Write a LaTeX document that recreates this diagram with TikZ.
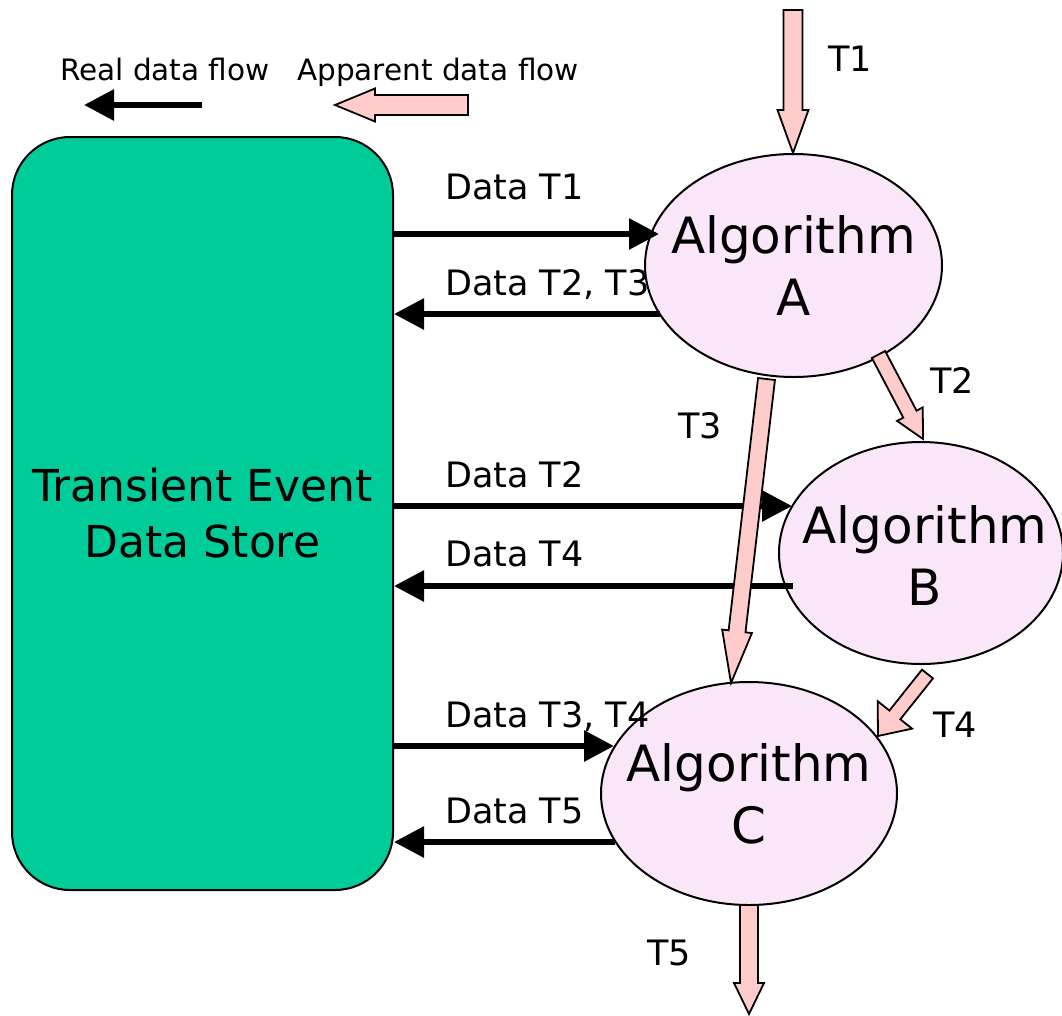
\documentclass[tikz,border=0pt]{standalone}
\usepackage{fontspec}
\setmainfont{DejaVu Sans}
\usetikzlibrary{arrows.meta,calc,shapes.geometric}
\definecolor{storegreen}{RGB}{0,204,153}
\definecolor{algopink}{RGB}{250,230,249}
\definecolor{apink}{RGB}{255,204,204}
\newcommand\flowarrow[5]{%
  \path[apparent] let \p1=(#1), \p2=(#2),
      \n1={atan2(\y2-\y1,\x2-\x1)}, \n2={veclen(\x2-\x1,\y2-\y1)-#5} in
    ($(\p1)+(\n1+90:#3pt)$) -- ($(\p1)+(\n1:\n2)+(\n1+90:#3pt)$)
    -- ($(\p1)+(\n1:\n2)+(\n1+90:#4pt)$) -- (\p2)
    -- ($(\p1)+(\n1:\n2)+(\n1-90:#4pt)$) -- ($(\p1)+(\n1:\n2)+(\n1-90:#3pt)$)
    -- ($(\p1)+(\n1-90:#3pt)$) -- cycle;}
\begin{document}
\begin{tikzpicture}[x=1pt,y=-1pt,
  apparent/.style={draw=black, fill=apink, line width=1.8pt, line join=miter},
  realflow/.style={draw=black, line width=6pt, -{Triangle[length=30pt,width=30pt]}},
  algo/.style={ellipse, draw=black, line width=2pt, fill=algopink, inner sep=0pt, outer sep=0pt},
  algotext/.style={align=center, font=\fontsize{50}{62}\selectfont},
  lbl/.style={anchor=base west, inner sep=0pt, font=\fontsize{35}{40}\selectfont},
  legend/.style={anchor=base west, inner sep=0pt, font=\fontsize{29.5}{34}\selectfont}]
\useasboundingbox (0,0) rectangle (1062,1015);

% legend
\node[legend] (lreal) at (60,80) {Real data flow};
\node[legend] (lapp) at (297,80) {Apparent data flow};
\coordinate (lr1) at (202,105); \coordinate (lr2) at (84,105);
\draw[realflow] (lr1) -- (lr2);
\coordinate (la1) at (468,105); \coordinate (la2) at (335,105);
\flowarrow{la1}{la2}{10}{16.5}{40}

% store
\node[draw=black, line width=2pt, fill=storegreen, rounded corners=58pt,
      minimum width=381pt, minimum height=753pt, inner sep=0pt, align=center,
      font=\fontsize{44}{56}\selectfont] (store) at (202.5,513.5)
      {Transient Event\\Data Store};

% algorithms
\node[algo, minimum width=297pt, minimum height=223pt] (A) at (793.5,265.5) {};
\node[algo, minimum width=284pt, minimum height=222pt] (B) at (921,553) {};
\node[algo, minimum width=296pt, minimum height=223pt] (C) at (749,793.5) {};
\node[algotext] (At) at (A) {Algorithm\\A};
\node[algotext] (Bt) at (925,555) {Algorithm\\B};
\node[algotext] (Ct) at (C) {Algorithm\\C};

% real data flow
\coordinate (a1) at (659,234);
\coordinate (a2) at (660,314);
\coordinate (b1) at (792,506);
\coordinate (b2) at (793,586);
\coordinate (c1) at (614,746);
\coordinate (c2) at (615,842);
\draw[realflow] (store.east |- a1) -- (a1);
\draw[realflow] (a2) -- (store.east |- a2);
\draw[realflow] (store.east |- b1) -- (b1);
\draw[realflow] (b2) -- (store.east |- b2);
\draw[realflow] (store.east |- c1) -- (c1);
\draw[realflow] (c2) -- (store.east |- c2);

\node[lbl] (d1) at (445,199) {Data T1};
\node[lbl] (d23) at (445,295) {Data T2, T3};
\node[lbl] (d2) at (445,487) {Data T2};
\node[lbl] (d4) at (445,566) {Data T4};
\node[lbl] (d34) at (445,727) {Data T3, T4};
\node[lbl] (d5) at (445,823) {Data T5};

% apparent data flow
\coordinate (t1s) at (793,10);    \coordinate (t1e) at (793,153);
\coordinate (t2s) at (878.5,354.5); \coordinate (t2e) at (923,439);
\coordinate (t3s) at (766.5,379); \coordinate (t3e) at (731,683);
\coordinate (t4s) at (927.5,674); \coordinate (t4e) at (878,736);
\coordinate (t5s) at (749,905);   \coordinate (t5e) at (749,1014);
\flowarrow{t1s}{t1e}{9.5}{15.5}{43}
\flowarrow{t2s}{t2e}{7.5}{14.5}{28}
\flowarrow{t3s}{t3e}{8.5}{15}{52}
\flowarrow{t4s}{t4e}{7}{22}{27}
\flowarrow{t5s}{t5e}{9}{15}{31}

\node[lbl] (T1) at (828,71) {T1};
\node[lbl] (T2) at (930,393) {T2};
\node[lbl] (T3) at (678,438) {T3};
\node[lbl] (T4) at (933,737) {T4};
\node[lbl] (T5) at (647,965) {T5};
\end{tikzpicture}
\end{document}
